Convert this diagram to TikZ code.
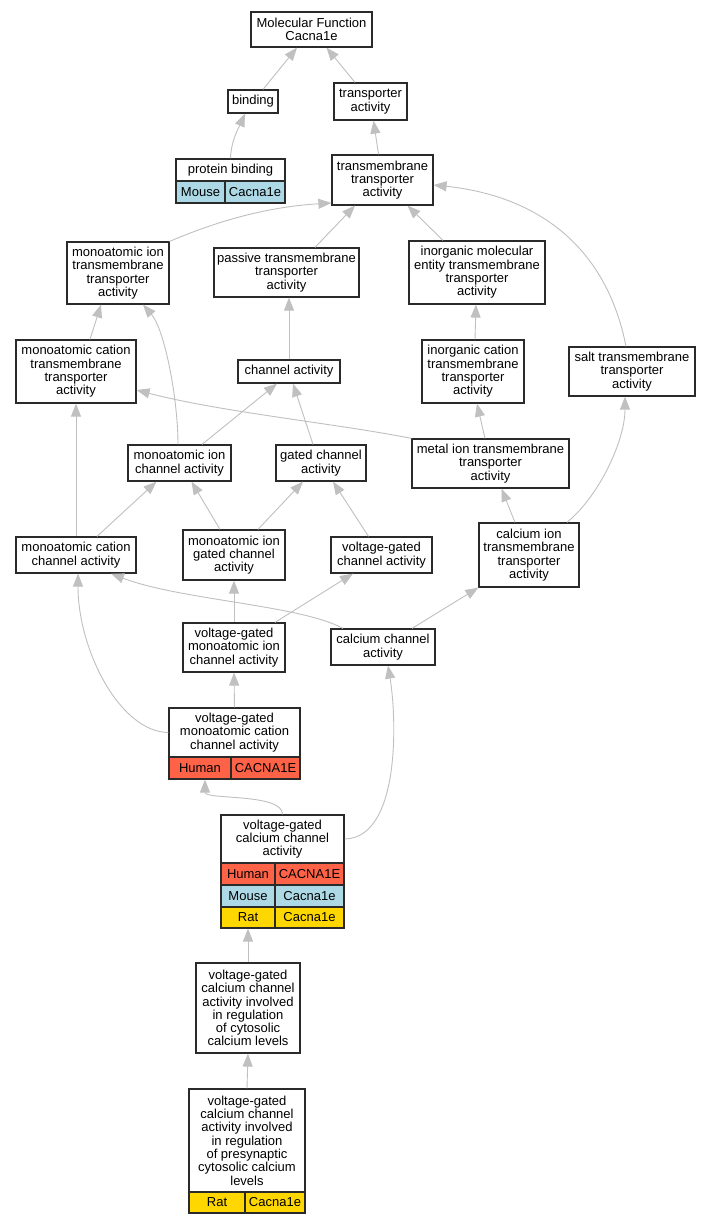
\documentclass[tikz,border=0pt]{standalone}
\usepackage{fontspec}
\setmainfont{Liberation Sans}
\usetikzlibrary{arrows.meta}
\definecolor{edgegray}{HTML}{C0C0C0}
\definecolor{human}{HTML}{FF6347}
\definecolor{mouse}{HTML}{ADD8E6}
\definecolor{rat}{HTML}{FFD700}
\definecolor{boxline}{HTML}{2A2A2A}
\tikzset{
  box/.style={draw=boxline, line width=1.2pt, fill=white, inner sep=0pt, align=center,
    font=\fontsize{13}{13.3}\selectfont},
  edge/.style={draw=edgegray, line width=0.9pt, -{Triangle[length=13pt,width=10pt]}},
}
\newcommand\gobox[6]{\node[box, minimum width={#4-#2}, minimum height={#5-#3}] (#1) at ({(#2+#4)/2},{(#3+#5)/2}) {#6};}
\newcommand\gocell[7]{\node[box, fill=#6, minimum width={#4-#2}, minimum height={#5-#3}] (#1) at ({(#2+#4)/2},{(#3+#5)/2}) {#7};}
\begin{document}
\begin{tikzpicture}[x=1pt,y=-1pt]
\fill[white] (0,0) rectangle (711,1224);
\useasboundingbox (0,0) rectangle (711,1224);
\gobox{mf}{251}{12}{372}{47}{Molecular Function\\Cacna1e}
\gobox{bind}{228}{90}{278}{113}{binding}
\gobox{tra}{334}{83}{407}{120}{transporter\\activity}
\gobox{pb}{176}{159}{285}{181}{protein binding}
\gocell{pbm}{176}{181}{225}{203}{mouse}{Mouse}
\gocell{pbg}{225}{181}{285}{203}{mouse}{Cacna1e}
\gobox{tta}{332}{155}{433}{205}{transmembrane\\transporter\\activity}
\gobox{mitta}{67}{242}{169}{304}{monoatomic ion\\transmembrane\\transporter\\activity}
\gobox{pas}{214}{248}{359}{297}{passive transmembrane\\transporter\\activity}
\gobox{mctta}{16}{340}{136}{403}{monoatomic cation\\transmembrane\\transporter\\activity}
\gobox{cha}{238}{360}{340}{383}{channel activity}
\gobox{ime}{409}{241}{545}{304}{inorganic molecular\\entity transmembrane\\transporter\\activity}
\gobox{ica}{422}{340}{524}{403}{inorganic cation\\transmembrane\\transporter\\activity}
\gobox{salt}{569}{347}{695}{396}{salt transmembrane\\transporter\\activity}
\gobox{metal}{412}{439}{569}{488}{metal ion transmembrane\\transporter\\activity}
\gobox{mica}{128}{445}{231}{481}{monoatomic ion\\channel activity}
\gobox{gca}{276}{445}{366}{481}{gated channel\\activity}
\gobox{mcca}{16}{537}{136}{573}{monoatomic cation\\channel activity}
\gobox{migca}{183}{530}{285}{580}{monoatomic ion\\gated channel\\activity}
\gobox{vgca}{331}{537}{432}{573}{voltage-gated\\channel activity}
\gobox{citta}{479}{523}{579}{587}{calcium ion\\transmembrane\\transporter\\activity}
\gobox{vgmica}{183}{623}{285}{672}{voltage-gated\\monoatomic ion\\channel activity}
\gobox{cca}{331}{629}{435}{665}{calcium channel\\activity}
\gobox{vgmcca}{169}{708}{300}{757}{voltage-gated\\monoatomic cation\\channel activity}
\gocell{vgmccaH}{169}{757}{231}{779}{human}{Human}
\gocell{vgmccaG}{231}{757}{300}{779}{human}{CACNA1E}
\gobox{vgcca}{221}{815}{344}{863}{voltage-gated\\calcium channel\\activity}
\gocell{vgccaH}{221}{863}{275}{885}{human}{Human}
\gocell{vgccaHG}{275}{863}{344}{885}{human}{CACNA1E}
\gocell{vgccaM}{221}{885}{275}{907}{mouse}{Mouse}
\gocell{vgccaMG}{275}{885}{344}{907}{mouse}{Cacna1e}
\gocell{vgccaR}{221}{907}{275}{928}{rat}{Rat}
\gocell{vgccaRG}{275}{907}{344}{928}{rat}{Cacna1e}
\gobox{cyto}{196}{963}{300}{1053}{voltage-gated\\calcium channel\\activity involved\\in regulation\\of cytosolic\\calcium levels}
\gobox{pre}{189}{1089}{305}{1192}{voltage-gated\\calcium channel\\activity involved\\in regulation\\of presynaptic\\cytosolic calcium\\levels}
\gocell{preR}{189}{1192}{245}{1213}{rat}{Rat}
\gocell{preG}{245}{1192}{305}{1213}{rat}{Cacna1e}

\draw[edge] ([xshift=10pt]bind.north) -- ([xshift=-14.5pt]mf.south);
\draw[edge] ([xshift=-15.5pt]tra.north) -- ([xshift=15pt]mf.south);
\draw[edge] (pb.north) .. controls (231,140) and (240,125) .. ([xshift=-8pt]bind.south);
\draw[edge] ([xshift=-4pt]tta.north) -- ([xshift=3pt]tra.south);
\draw[edge] (mitta.north east) .. controls (215,222) and (265,207) .. ([yshift=-23pt]tta.west);
\draw[edge] ([xshift=28.5pt]pas.north) -- ([xshift=-27.5pt]tta.south);
\draw[edge] ([xshift=-34pt]ime.north) -- ([xshift=25pt]tta.south);
\draw[edge] ([xshift=-6pt]salt.north) .. controls (605,240) and (530,195) .. ([yshift=-5pt]tta.east);
\draw[edge] (cha.north) -- ([xshift=2.5pt]pas.south);
\draw[edge] ([xshift=2pt]ica.north) -- ([xshift=-1pt]ime.south);
\draw[edge] ([xshift=-5.5pt]metal.north) -- ([xshift=4pt]ica.south);
\draw[edge] ([xshift=14pt]mctta.north) -- ([xshift=-17pt]mitta.south);
\draw[edge] ([xshift=-1.5pt]mica.north) .. controls (178,400) and (165,330) .. ([xshift=25pt]mitta.south);
\draw[edge] ([xshift=22.5pt]mica.north) -- ([xshift=-12pt]cha.south);
\draw[edge] ([xshift=-8pt]gca.north) -- ([xshift=4pt]cha.south);
\draw[edge] (metal.north west) .. controls (340,424) and (220,412) .. ([yshift=-18.5pt]mctta.east);
\draw[edge] ([xshift=-14pt]citta.north) -- ([xshift=11pt]metal.south);
\draw[edge] ([xshift=38pt]citta.north) .. controls (600,495) and (625,440) .. ([xshift=-7pt]salt.south);
\draw[edge] (mcca.north) -- (mctta.south);
\draw[edge] ([xshift=21pt]mcca.north) -- ([xshift=-23pt]mica.south);
\draw[edge] ([xshift=-14pt]migca.north) -- ([xshift=12pt]mica.south);
\draw[edge] ([xshift=24pt]migca.north) -- ([xshift=-18pt]gca.south);
\draw[edge] ([xshift=-13pt]vgca.north) -- ([xshift=12pt]gca.south);
\draw[edge] (vgmica.north) -- (migca.south);
\draw[edge] ([xshift=41pt]vgmica.north) -- ([xshift=-28.5pt]vgca.south);
\draw[edge] ([xshift=-40pt]cca.north) .. controls (300,605) and (180,600) .. ([xshift=35pt]mcca.south);
\draw[edge] ([xshift=29pt]cca.north) -- (citta.south west);
\draw[edge] (vgmcca.west) .. controls (120,732) and (78,650) .. ([xshift=2pt]mcca.south);
\draw[edge] (vgmcca.north) -- (vgmica.south);
\draw[edge] (vgcca.north) .. controls (283,793) and (205,800) .. ([xshift=5pt]vgmccaH.south);
\draw[edge] (vgcca.east) .. controls (400,838) and (397,720) .. ([xshift=5pt]cca.south);
\draw[edge] (cyto.north) -- (vgccaR.south);
\draw[edge] (pre.north) -- (cyto.south);
\end{tikzpicture}
\end{document}
